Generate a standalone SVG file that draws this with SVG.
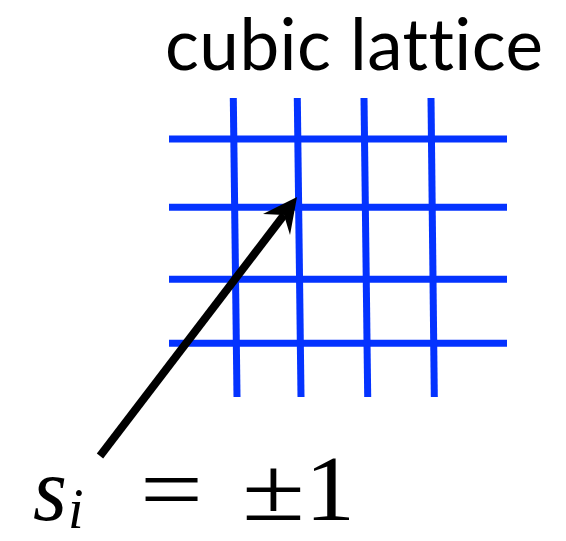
<svg xmlns="http://www.w3.org/2000/svg" width="566" height="541" viewBox="0 0 566 541">
<style>
.grid line{stroke:#0433ff;stroke-width:7;stroke-linecap:butt}
.title{font-family:"Lato","Open Sans",sans-serif;font-size:71px;fill:#000;font-variant-ligatures:none}
.math{font-family:"Liberation Serif","DejaVu Serif",serif;fill:#000}
</style>
<rect width="566" height="541" fill="#fff"/>
<g id="title"><text class="title" x="165" y="70" textLength="378" lengthAdjust="spacing">cubic lattice</text></g>
<g id="lattice" class="grid">
<line x1="169" y1="139" x2="507" y2="139"/>
<line x1="169" y1="207.3" x2="507" y2="207.3"/>
<line x1="169" y1="279.3" x2="507" y2="279.3"/>
<line x1="169" y1="343.3" x2="507" y2="343.3"/>
<line x1="233.3" y1="98" x2="237" y2="397"/>
<line x1="297.3" y1="98" x2="301" y2="397"/>
<line x1="364" y1="98" x2="367.7" y2="397"/>
<line x1="431" y1="98" x2="434.3" y2="397"/>
</g>
<g id="connectors">
<line x1="100" y1="456" x2="284" y2="215" stroke="#000" stroke-width="8"/>
<polygon points="297,197 263,214 284,215 290,235" fill="#000"/>
</g>
<g id="label">
<text class="math" x="33" y="520" font-size="92" font-style="italic" textLength="34" lengthAdjust="spacingAndGlyphs">s</text>
<text class="math" x="68" y="528" font-size="56" font-style="italic">i</text>
<text class="math" x="140" y="520" font-size="90" textLength="63" lengthAdjust="spacingAndGlyphs">=</text>
<text class="math" x="242" y="520" font-size="90" textLength="63" lengthAdjust="spacingAndGlyphs">±</text>
<text class="math" x="305" y="520" font-size="93" textLength="50" lengthAdjust="spacingAndGlyphs">1</text>
</g>
</svg>
